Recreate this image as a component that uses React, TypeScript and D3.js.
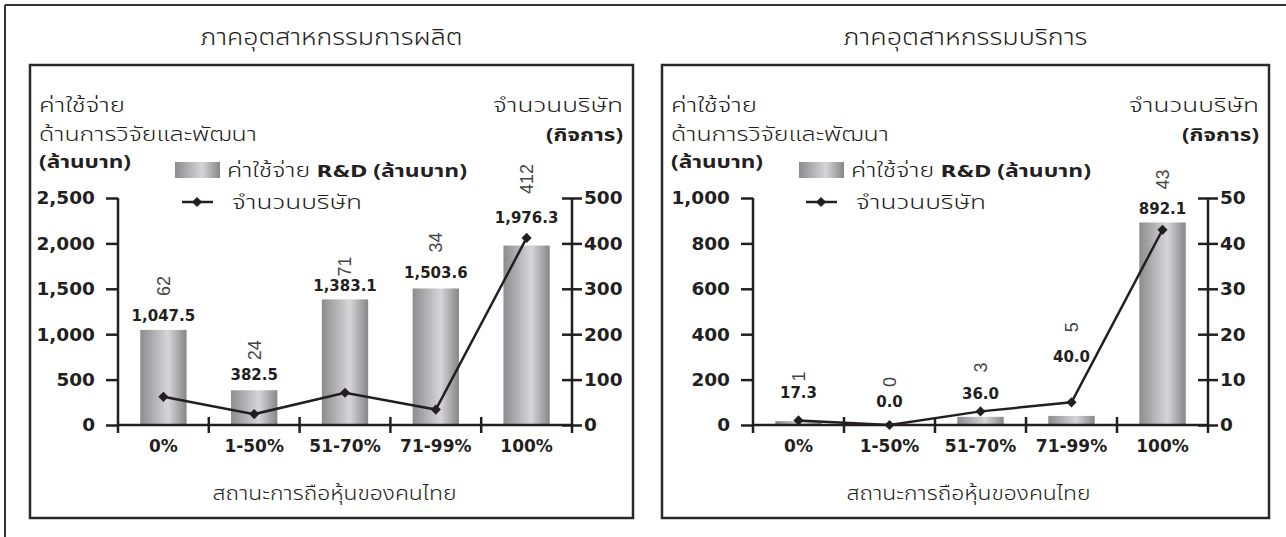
import React, { useEffect, useRef } from 'react';
import * as d3 from 'd3';

const categories = ['0%', '1-50%', '51-70%', '71-99%', '100%'];
const mfgSpend = [1047.5, 382.5, 1383.1, 1503.6, 1976.3];
const mfgFirms = [62, 24, 71, 34, 412];
const svcSpend = [17.3, 0.0, 36.0, 40.0, 892.1];
const svcFirms = [1, 0, 3, 5, 43];
const mfgSpendTicks = [0, 500, 1000, 1500, 2000, 2500];
const mfgFirmTicks = [0, 100, 200, 300, 400, 500];
const svcSpendTicks = [0, 200, 400, 600, 800, 1000];
const svcFirmTicks = [0, 10, 20, 30, 40, 50];

const THAI = '"Noto Sans Thai", "Noto Sans", "DejaVu Sans", sans-serif';
const NUM = '"DejaVu Sans", sans-serif';
const INK = '#231f20';

interface PanelProps {
  id: string;
  title: string;
  titleLen: number;
  spend: number[];
  firms: number[];
  spendTicks: number[];
  firmTicks: number[];
  box: { x: number; y: number; w: number; h: number };
  axis: { left: number; right: number; top: number; bottom: number };
  legendX: number;
  lifts: number[];
  gaps: number[];
}

const Panel: React.FC<PanelProps> = (p) => {
  const axisRef = useRef<SVGGElement>(null);
  const { axis: ax, box } = p;

  const x = d3.scaleBand().domain(categories).range([ax.left, ax.right]).paddingInner(0.49).paddingOuter(0.245);
  const y = d3.scaleLinear().domain([0, p.spendTicks[p.spendTicks.length - 1]]).range([ax.bottom, ax.top]);
  const y2 = d3.scaleLinear().domain([0, p.firmTicks[p.firmTicks.length - 1]]).range([ax.bottom, ax.top]);
  const cx = (c: string) => (x(c) || 0) + x.bandwidth() / 2;

  useEffect(() => {
    if (!axisRef.current) return;
    const g = d3.select(axisRef.current);
    g.selectAll('*').remove();

    const left = g.append('g')
      .attr('transform', `translate(${ax.left},0)`)
      .call(d3.axisLeft(y).tickValues(p.spendTicks).tickSize(12).tickSizeOuter(0).tickPadding(11).tickFormat(d3.format(',') as any));
    const right = g.append('g')
      .attr('transform', `translate(${ax.right},0)`)
      .call(d3.axisRight(y2).tickValues(p.firmTicks).tickSize(10).tickSizeOuter(0).tickPadding(2).tickFormat(d3.format(',') as any));
    right.selectAll('.tick line').attr('x1', -10);

    [left, right].forEach(a => {
      a.select('.domain').remove();
      a.selectAll('.tick line').attr('stroke', INK).attr('stroke-width', 2.5);
      a.selectAll('.tick text').attr('fill', INK).attr('font-family', NUM).attr('font-weight', 'bold').attr('font-size', 18.5);
    });

    // vertical axis lines run a little below the baseline
    [ax.left, ax.right].forEach(xx => {
      g.append('line').attr('x1', xx).attr('x2', xx).attr('y1', ax.top).attr('y2', ax.bottom + 8)
        .attr('stroke', INK).attr('stroke-width', 2.5);
    });

    // category axis
    g.append('line').attr('x1', ax.left).attr('x2', ax.right).attr('y1', ax.bottom).attr('y2', ax.bottom)
      .attr('stroke', INK).attr('stroke-width', 2.5);
    const half = (x.step() - x.bandwidth()) / 2;
    const bounds = categories.map(c => (x(c) || 0) - half);
    g.selectAll('.ctick').data(bounds.slice(1)).enter().append('line')
      .attr('x1', d => d).attr('x2', d => d).attr('y1', ax.bottom - 8).attr('y2', ax.bottom + 8)
      .attr('stroke', INK).attr('stroke-width', 2.5);
  }, [p]);

  const line = d3.line<number>().x((_, i) => cx(categories[i])).y(d => y2(d));
  const diamond = d3.symbol(d3.symbolSquare, 52)() || '';
  const gid = `grad-${p.id}`;
  const mid = box.x + box.w / 2;
  const tx = box.x + 9;
  const rx = box.x + box.w - 10;

  return (
    <g>
      <defs>
        <linearGradient id={gid} x1="0" x2="1" y1="0" y2="0">
          <stop offset="0" stopColor="#8c8c8e" />
          <stop offset="0.6" stopColor="#d6d6d8" />
          <stop offset="1" stopColor="#868688" />
        </linearGradient>
      </defs>

      <text x={mid} y={45} textAnchor="middle" fontFamily={THAI} fontWeight={300} fontSize={23} fill={INK}
        textLength={p.titleLen} lengthAdjust="spacingAndGlyphs">{p.title}</text>
      <rect x={box.x} y={box.y} width={box.w} height={box.h} fill="none" stroke="#2a2a2a" strokeWidth={2.5} />

      {/* axis titles */}
      <g fontFamily={THAI} fill={INK}>
        <text x={tx} y={112} fontSize={19} fontWeight={300} textLength={86} lengthAdjust="spacingAndGlyphs">ค่าใช้จ่าย</text>
        <text x={tx} y={141} fontSize={19} fontWeight={300} textLength={218} lengthAdjust="spacingAndGlyphs">ด้านการวิจัยและพัฒนา</text>
        <text x={tx} y={168} fontSize={18} fontWeight="bold" textLength={92} lengthAdjust="spacingAndGlyphs">(ล้านบาท)</text>
        <text x={rx} y={112} fontSize={19} fontWeight={300} textAnchor="end" textLength={130} lengthAdjust="spacingAndGlyphs">จำนวนบริษัท</text>
        <text x={rx} y={141} fontSize={18} fontWeight="bold" textAnchor="end" textLength={77} lengthAdjust="spacingAndGlyphs">(กิจการ)</text>
      </g>

      {/* legend */}
      <rect x={p.legendX} y={162} width={45} height={16} fill={`url(#${gid})`} />
      <text x={p.legendX + 52} y={177} fontFamily={THAI} fontWeight={300} fontSize={19.5} fill={INK}
        textLength={240} lengthAdjust="spacingAndGlyphs">
        ค่าใช้จ่าย <tspan fontFamily={NUM} fontWeight="bold" fontSize={16}>R&amp;D</tspan>
        <tspan fontWeight="bold" fontSize={18}> (ล้านบาท)</tspan>
      </text>
      <line x1={p.legendX + 7} x2={p.legendX + 38} y1={202} y2={202} stroke={INK} strokeWidth={2.5} />
      <path d={diamond} transform={`translate(${p.legendX + 22},202) rotate(45)`} fill={INK} />
      <text x={p.legendX + 57} y={209} fontFamily={THAI} fontWeight={300} fontSize={19.5} fill={INK}
        textLength={130} lengthAdjust="spacingAndGlyphs">จำนวนบริษัท</text>

      {/* bars */}
      {p.spend.map((v, i) => (
        <rect key={`b${i}`} x={x(categories[i])} y={y(v)} width={x.bandwidth()} height={ax.bottom - y(v)} fill={`url(#${gid})`} />
      ))}

      <g ref={axisRef} />

      {/* firm count line */}
      <path d={line(p.firms) || ''} fill="none" stroke={INK} strokeWidth={2.5} />
      {p.firms.map((v, i) => (
        <path key={`m${i}`} d={diamond} transform={`translate(${cx(categories[i])},${y2(v)}) rotate(45)`} fill={INK} />
      ))}

      {/* value labels */}
      {p.spend.map((v, i) => {
        const base = Math.min(y(v), y2(p.firms[i])) - p.lifts[i];
        const c = cx(categories[i]);
        return (
          <g key={`l${i}`}>
            <text x={c} y={base} textAnchor="middle" fontFamily={NUM} fontWeight="bold" fontSize={15} fill={INK}>
              {d3.format(',.1f')(v)}
            </text>
            <text transform={`translate(${c},${base - p.gaps[i]}) rotate(-90)`} dy="0.35em" fontFamily='"Liberation Sans", sans-serif'
              fontSize={18} fill="#444">{p.firms[i]}</text>
          </g>
        );
      })}

      {/* category labels */}
      {categories.map(c => (
        <text key={c} x={cx(c)} y={452} textAnchor="middle" fontFamily={NUM} fontWeight="bold" fontSize={17} fill={INK}>{c}</text>
      ))}
      <text x={mid + 3} y={500} textAnchor="middle" fontFamily={THAI} fontWeight={300} fontSize={20} fill={INK}
        textLength={244} lengthAdjust="spacingAndGlyphs">สถานะการถือหุ้นของคนไทย</text>
    </g>
  );
};

const App: React.FC = () => (
  <svg width={1286} height={537} style={{ position: 'absolute', left: 0, top: 0, background: '#fff' }}>
    <line x1={5} x2={1286} y1={5} y2={5} stroke="#333" strokeWidth={2} />
    <line x1={5} x2={5} y1={5} y2={537} stroke="#333" strokeWidth={2} />
    <Panel id="mfg" title="ภาคอุตสาหกรรมการผลิต" titleLen={262} spend={mfgSpend} firms={mfgFirms}
      spendTicks={mfgSpendTicks} firmTicks={mfgFirmTicks}
      box={{ x: 30, y: 65, w: 603, h: 453 }} axis={{ left: 118, right: 572, top: 198, bottom: 425 }}
      legendX={175}
      lifts={[9, 10, 8, 10, 15]} gaps={[25, 20, 15, 26, 29]} />
    <Panel id="svc" title="ภาคอุตสาหกรรมบริการ" titleLen={244} spend={svcSpend} firms={svcFirms}
      spendTicks={svcSpendTicks} firmTicks={svcFirmTicks}
      box={{ x: 662, y: 65, w: 607, h: 453 }} axis={{ left: 753, right: 1208, top: 198, bottom: 425 }}
      legendX={799}
      lifts={[22, 18, 12, 40, 8]} gaps={[17, 20, 27, 30, 25]} />
  </svg>
);

export default App;
